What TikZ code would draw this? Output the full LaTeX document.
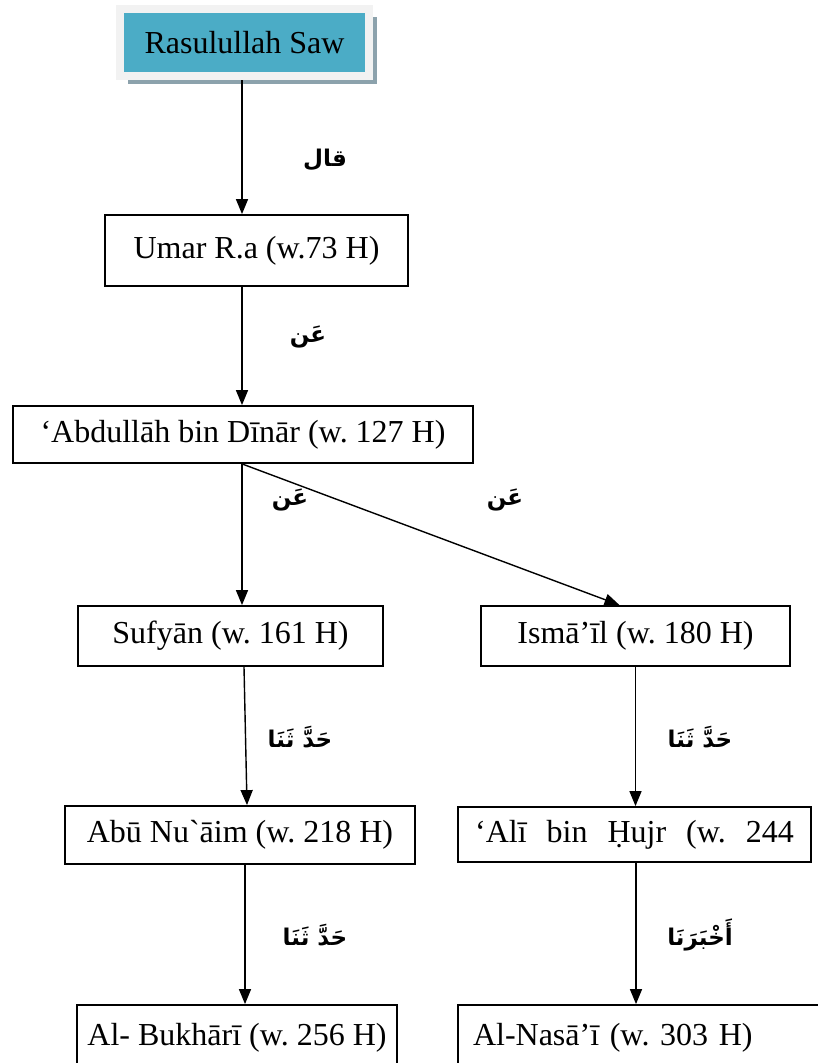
\documentclass[tikz,border=0pt]{standalone}
\usepackage{fontspec}
\setmainfont{Liberation Serif}
\newfontfamily\arabicfont[Script=Arabic]{DejaVu Sans}
\TeXXeTstate=1
\usetikzlibrary{arrows.meta,shadows}
\definecolor{boxblue}{RGB}{75,172,198}
\definecolor{framegray}{RGB}{242,242,242}
\definecolor{shadowgray}{RGB}{140,162,172}
\def\ar#1{{\arabicfont\bfseries\beginR #1\endR}}
\def\gap{\hspace{20pt}}

\begin{document}
\begin{tikzpicture}[x=1pt,y=-1pt,font=\fontsize{32}{38}\selectfont\frenchspacing]
    \tikzstyle{narrator}=[draw,line width=1.8pt,inner sep=0pt]
    \tikzstyle{prophet}=[narrator, fill=boxblue, draw=framegray, line width=8pt,
        minimum width=249pt, minimum height=67pt,
        drop shadow={shadow xshift=8pt, shadow yshift=-8pt, fill=shadowgray, opacity=1}]
    \tikzstyle{link}=[-{Triangle[length=15pt,width=12pt]}, line width=1.4pt]
    \tikzstyle{sigha}=[font=\fontsize{23}{28}\selectfont]

    \useasboundingbox (0,0) rectangle (817,1063);

    % the chain of narrators
    \node[prophet] (R) at (244.5,42.5) {Rasulullah Saw};
    \node[narrator, minimum width=303pt, minimum height=71pt] (U) at (256.5,250.5) {Umar R.a (w.73 H)};
    \node[narrator, minimum width=460pt, minimum height=57pt] (A) at (243,434.5) {‘Abdullāh bin Dīnār (w. 127 H)};

    % two branches
    \node[narrator, minimum width=305pt, minimum height=60pt] (S) at (230.5,636) {Sufyān (w. 161 H)};
    \node[narrator, minimum width=309pt, minimum height=60pt] (I) at (635.5,636) {Ismā’īl (w. 180 H)};
    \node[narrator, minimum width=350pt, minimum height=58pt] (N) at (240,835) {Abū Nu\textasciigrave āim (w. 218 H)};
    \node[narrator, minimum width=353pt, minimum height=55pt] (H) at (634.5,834.5) {‘Alī\gap bin\gap Ḥujr\gap (w.\gap 244};
    \node[narrator, minimum width=320pt, minimum height=65pt] (B) at (237,1037.5) {Al- Bukhārī (w. 256 H)};
    \node[narrator, minimum width=370pt, minimum height=65pt, text width=340pt, align=left] (Q) at (643,1037.5) {Al-Nasā’ī (w. 303 H)};

    % connect the narrators
    \draw[link] ([xshift=-2.5pt]R.south) -- ([xshift=-14.5pt]U.north);
    \draw[link] ([xshift=-14.5pt]U.south) -- ([xshift=-1pt]A.north);
    \draw[link] ([xshift=-1pt]A.south) -- ([xshift=11.5pt]S.north);
    \draw[link] ([xshift=-1pt]A.south) -- ([xshift=-16pt]I.north);
    \draw[link] ([xshift=13.5pt]S.south) -- ([xshift=7pt]N.north);
    \draw[link] (I.south) -- ([xshift=1pt]H.north);
    \draw[link] ([xshift=5pt]N.south) -- ([xshift=8pt]B.north);
    \draw[link] ([xshift=1.5pt]H.south) -- ([xshift=-7pt]Q.north);

    % the words of transmission
    \node[sigha] (t-1) at (325,160) {\ar{قال}};
    \node[sigha] (t-2) at (308,337) {\ar{عَن}};
    \node[sigha] (t-3) at (290,500) {\ar{عَن}};
    \node[sigha] (t-4) at (505,500) {\ar{عَن}};
    \node[sigha] (t-5) at (300,737) {\ar{حَدَّ ثَنَا}};
    \node[sigha] (t-6) at (700,737) {\ar{حَدَّ ثَنَا}};
    \node[sigha] (t-7) at (315,935) {\ar{حَدَّ ثَنَا}};
    \node[sigha] (t-8) at (700,935) {\ar{أَخْبَرَنَا}};
\end{tikzpicture}
\end{document}
